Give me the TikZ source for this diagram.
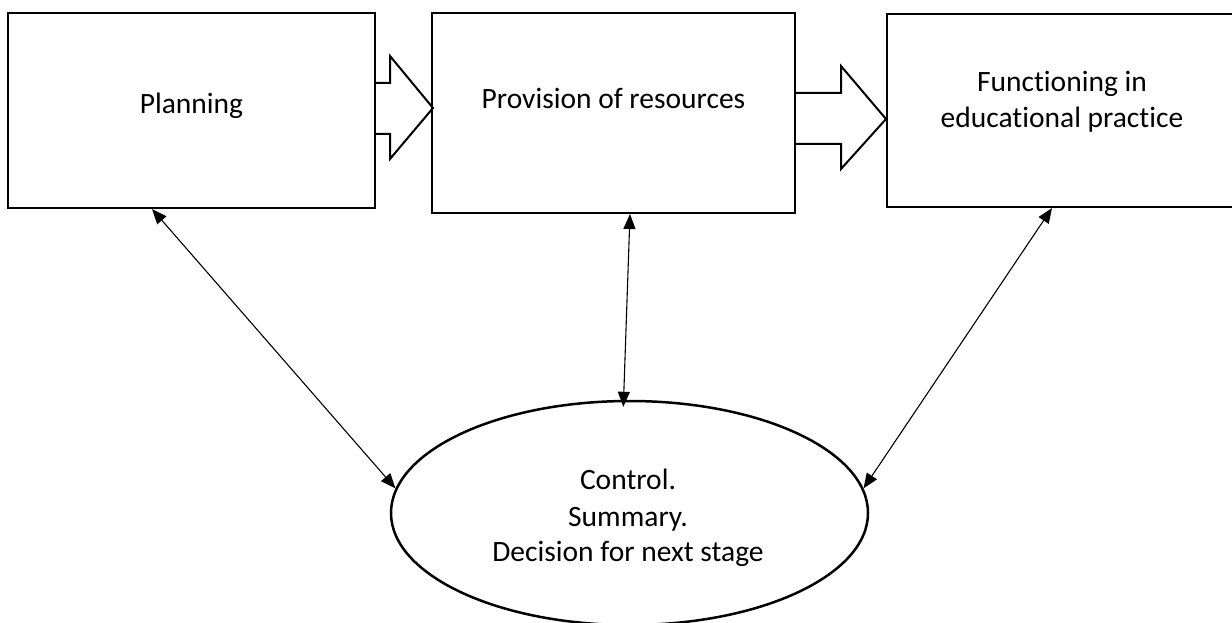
\documentclass[tikz,border=0pt]{standalone}
\usepackage{fontspec}
\setmainfont{Carlito}[Ligatures={TeX,NoCommon}]
\usetikzlibrary{arrows.meta,shapes.geometric}
\begin{document}
\begin{tikzpicture}[x=1pt,y=-1pt,
 box/.style={draw,line width=2pt,rectangle,inner sep=0pt},
 lbl/.style={anchor=base,inner sep=0pt,font=\fontsize{29.5}{36}\selectfont},
 blk/.style={draw,line width=2pt,line join=miter},
 link/.style={line width=1.1pt,{Triangle[length=15pt,width=12pt]}-{Triangle[length=15pt,width=12pt]}}]
\useasboundingbox (0,0) rectangle (1232,623);
% boxes
\node[box,minimum width=367pt,minimum height=195pt] (b1) at (191.5,110.5) {};
\node[box,minimum width=363pt,minimum height=200pt] (b2) at (613.5,113) {};
\node[box,minimum width=349pt,minimum height=193pt] (b3) at (1061.5,110.5) {};
\node[draw,ellipse,line width=2.5pt,minimum width=477pt,minimum height=224pt,inner sep=0pt] (ell) at (629.5,513) {};
% texts
\node[lbl] (t1) at (191.5,114) {Planning};
\node[lbl] (t2) at (613.5,109) {Provision of resources};
\node[lbl] (t3a) at (1062,92) {Functioning in};
\node[lbl] (t3b) at (1062,128) {educational practice};
\node[lbl] (e1) at (628,489) {Control.};
\node[lbl] (e2) at (628,526) {Summary.};
\node[lbl] (e3) at (628,561) {Decision for next stage};
% block arrows
\draw[blk] (375,83) -- (390,83) -- (390,56) -- (433,108) -- (390,159) -- (390,134) -- (375,134);
\draw[blk] (795,93) -- (841,93) -- (841,66) -- (886,119) -- (841,169) -- (841,144) -- (795,144);
% connectors
\draw[link] ([xshift=145pt]b1.south west) -- (ell.174.4);
\draw[link,shorten >=-7pt] ([xshift=199pt]b2.south west) -- (ell.93.6);
\draw[link] ([xshift=166pt]b3.south west) -- (ell.6.2);
\end{tikzpicture}
\end{document}
